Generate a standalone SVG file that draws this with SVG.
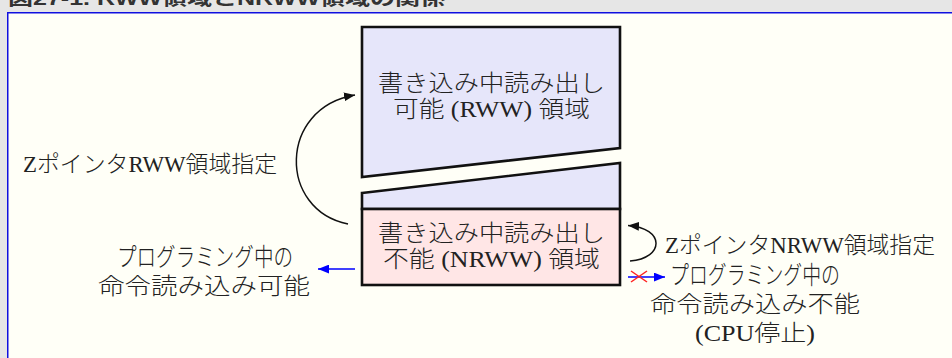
<svg xmlns="http://www.w3.org/2000/svg" width="952" height="358" viewBox="0 0 952 358">
<style>
.t{font-family:"Liberation Serif","Noto Sans CJK JP",serif;font-size:23px;font-weight:300;fill:#222}
.k{font-size:25px}
.title{font-family:"Liberation Sans","Noto Sans CJK JP",sans-serif;font-size:18px;font-weight:bold;fill:#333}
.box{stroke:#111;stroke-width:2.6;stroke-linejoin:miter}
.rww{fill:#e6e6fa}
.nrww{fill:#ffe6e6}
.arc{fill:none;stroke:#111;stroke-width:1.5}
.blue{fill:none;stroke:#0000ff;stroke-width:1.5}
.red{stroke:#ff2020;stroke-width:1.5}
</style>
<defs>
<marker id="ab" viewBox="0 0 10 8" refX="10" refY="4" markerWidth="11" markerHeight="9" markerUnits="userSpaceOnUse" orient="auto">
<path d="M0,0 L10,4 L0,8 Z" fill="#111"/>
</marker>
<marker id="abl" viewBox="0 0 10 8" refX="10" refY="4" markerWidth="11" markerHeight="9" markerUnits="userSpaceOnUse" orient="auto">
<path d="M0,0 L10,4 L0,8 Z" fill="#0000ff"/>
</marker>
</defs>
<rect x="0" y="0" width="952" height="358" fill="#e6e6e6"/>
<text class="title" x="8" y="5" textLength="437" lengthAdjust="spacingAndGlyphs">図27-1. RWW領域とNRWW領域の関係</text>
<rect x="7.75" y="12.75" width="960" height="360" fill="#fffff7" stroke="#1010e0" stroke-width="1.5"/>

<g id="rww">
<polygon class="box rww" points="362,27 620,27 620,148 362,177"/>
<text class="t" x="378" y="91" textLength="227" lengthAdjust="spacingAndGlyphs">書き込み中読み出し</text>
<text class="t" x="393" y="117" textLength="197" lengthAdjust="spacingAndGlyphs">可能 (RWW) 領域</text>
</g>
<g id="rww-lower">
<polygon class="box rww" points="362,193 620,163 620,209 362,209"/>
</g>
<g id="nrww">
<rect class="box nrww" x="362" y="209" width="258" height="76"/>
<text class="t" x="378" y="241" textLength="227" lengthAdjust="spacingAndGlyphs">書き込み中読み出し</text>
<text class="t" x="383" y="267" textLength="217" lengthAdjust="spacingAndGlyphs">不能 (NRWW) 領域</text>
</g>

<g id="connectors">
<path class="arc" d="M348,224 C278,210 278,108 355,95" marker-end="url(#ab)"/>
<path class="arc" d="M630,261 C665,258 665,228 628,225.5" marker-end="url(#ab)"/>
<line class="blue" x1="355" y1="269" x2="318" y2="269" marker-end="url(#abl)"/>
<line class="blue" x1="628" y1="277" x2="665" y2="277" marker-end="url(#abl)"/>
<line class="red" x1="631" y1="271" x2="647" y2="282"/>
<line class="red" x1="631" y1="282" x2="647" y2="271"/>
</g>

<g id="labels">
<text class="t" x="23" y="172" textLength="254" lengthAdjust="spacingAndGlyphs">ZポインタRWW領域指定</text>
<text class="t k" x="117" y="266" textLength="176" lengthAdjust="spacingAndGlyphs">プログラミング中の</text>
<text class="t" x="98" y="294" textLength="212" lengthAdjust="spacingAndGlyphs">命令読み込み可能</text>
<text class="t" x="665" y="253" textLength="270" lengthAdjust="spacingAndGlyphs">ZポインタNRWW領域指定</text>
<text class="t k" x="670" y="284" textLength="170" lengthAdjust="spacingAndGlyphs">プログラミング中の</text>
<text class="t" x="650" y="312" textLength="210" lengthAdjust="spacingAndGlyphs">命令読み込み不能</text>
<text class="t" x="695" y="341" textLength="120" lengthAdjust="spacingAndGlyphs">(CPU停止)</text>
</g>
</svg>
